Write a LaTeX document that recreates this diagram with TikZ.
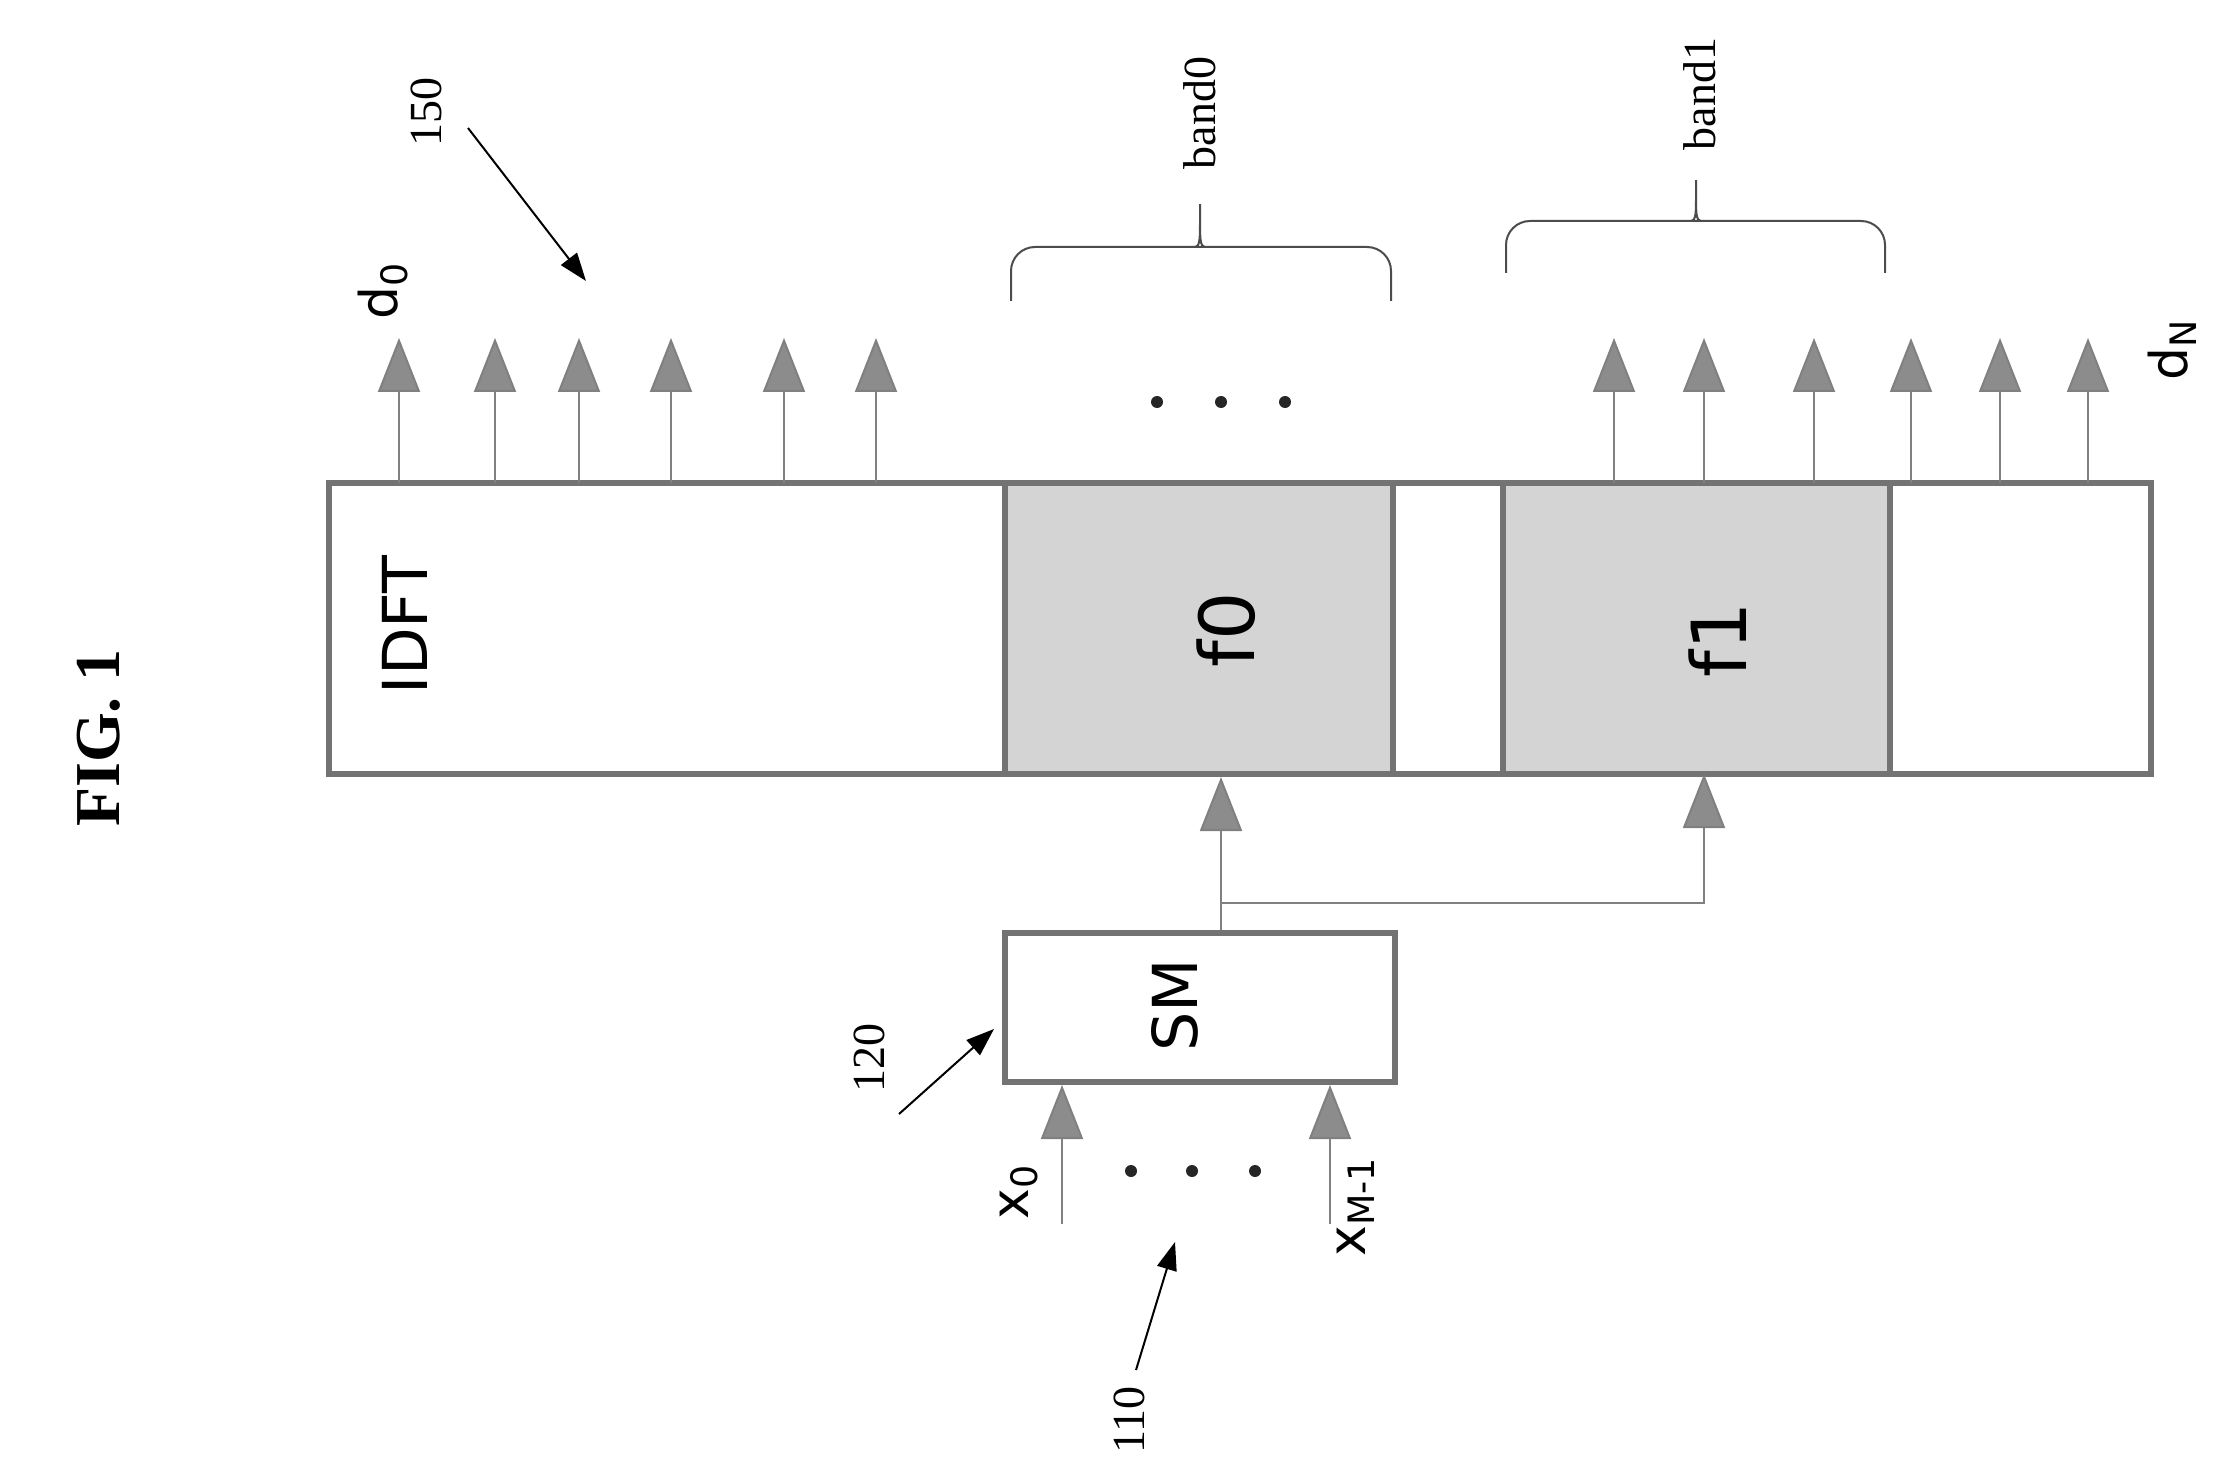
\documentclass[tikz,border=0pt]{standalone}
\usepackage{fontspec}
\setmainfont{Liberation Serif}
\setsansfont{DejaVu Sans}
\usetikzlibrary{arrows.meta,decorations.pathreplacing,positioning}
\begin{document}
\begin{tikzpicture}[x=0.5pt,y=-0.5pt,
  blk/.style={draw=black!55,line width=3pt,rectangle,inner sep=0pt},
  sig/.style={draw=black!50,line width=1pt,-{Triangle[width=21pt,length=27pt,fill=black!45]}},
  lbl/.style={font=\fontsize{23}{26}\selectfont},
  ptr/.style={line width=1pt,-{Triangle[width=10pt,length=14pt]}},
  brc/.style={draw=black!70,line width=1pt,rounded corners=12pt},
  dot/.style={circle,fill=black!85,inner sep=0pt,minimum size=6pt},
  lab/.style={rotate=90,font=\sffamily\fontsize{#1}{#1}\selectfont,inner sep=0pt}]
\useasboundingbox (0,0) rectangle (2226,1476);
\node[rotate=90,font=\bfseries\fontsize{32}{34}\selectfont] (fig) at (99,738) {FIG. 1};
% boxes
\node[blk,minimum width=911pt,minimum height=145.5pt] (idft) at (1240,628.5) {};
\node[blk,fill=black!17,minimum width=194pt,minimum height=145.5pt] (f0) at (1199,628.5) {};
\node[blk,fill=black!17,minimum width=193.5pt,minimum height=145.5pt] (f1) at (1696.5,628.5) {};
\node[blk,minimum width=195pt,minimum height=74.5pt] (sm) at (1200,1007.5) {};
\node[lab=31] (idfttxt) at (405,625) {IDFT};
\node[lab=38] (f0txt) at (1226,630) {f0};
\node[lab=38] (f1txt) at (1718,640) {f1};
\node[lab=31] (smtxt) at (1175,1005) {SM};
% outputs
\foreach \x [count=\i] in {399,495,579,671,784,876,1614,1704,1814,1911,2000,2088}
  \draw[sig] (\x,774-291) coordinate (o\i) -- (\x,338);
\node[lab=26] (d0) at (383,291) {d\textsubscript{0}};
\node[lab=26] (dN) at (2172,350) {d\textsubscript{N}};
\foreach \x in {1157,1221,1285}
  \node[dot] at (\x,402) {};
% bands
\draw[brc] (1011,301) |- (1185,247) .. controls (1200,247) .. (1200,190)
  .. controls (1200,247) .. (1215,247) -| (1391,301);
\draw[brc] (1506,273) |- (1681,221) .. controls (1696,221) .. (1696,166)
  .. controls (1696,221) .. (1711,221) -| (1885,273);
\node[lbl,rotate=90] (band0) at (1200,113) {band0};
\node[lbl,rotate=90] (band1) at (1700,94) {band1};
% signal map
\coordinate (split) at (1221,903);
\draw[draw=black!50,line width=1pt] (sm.north -| split) -- (split);
\draw[sig] (split) -- (split |- f0.south);
\draw[sig] (split) -| (1704,774);
\coordinate (xin0) at (1062,1224);
\coordinate (xin1) at (1330,1224);
\draw[sig] (xin0) -- (xin0 |- sm.south);
\draw[sig] (xin1) -- (xin1 |- sm.south);
\node[lab=26] (x0) at (1019,1192) {x\textsubscript{0}};
\node[lab=26] (xm) at (1356,1207) {x\textsubscript{M-1}};
\foreach \x in {1131,1192,1255}
  \node[dot] at (\x,1171) {};
% reference numerals
\node[lbl,rotate=90] (n150) at (426,112) {150};
\node[lbl,rotate=90] (n120) at (869,1058) {120};
\node[lbl,rotate=90] (n110) at (1129,1420) {110};
\draw[ptr] (468,128) -- (586,281);
\draw[ptr] (899,1114) -- (994,1029);
\draw[ptr] (1136,1370) -- (1175,1242);
\end{tikzpicture}
\end{document}
